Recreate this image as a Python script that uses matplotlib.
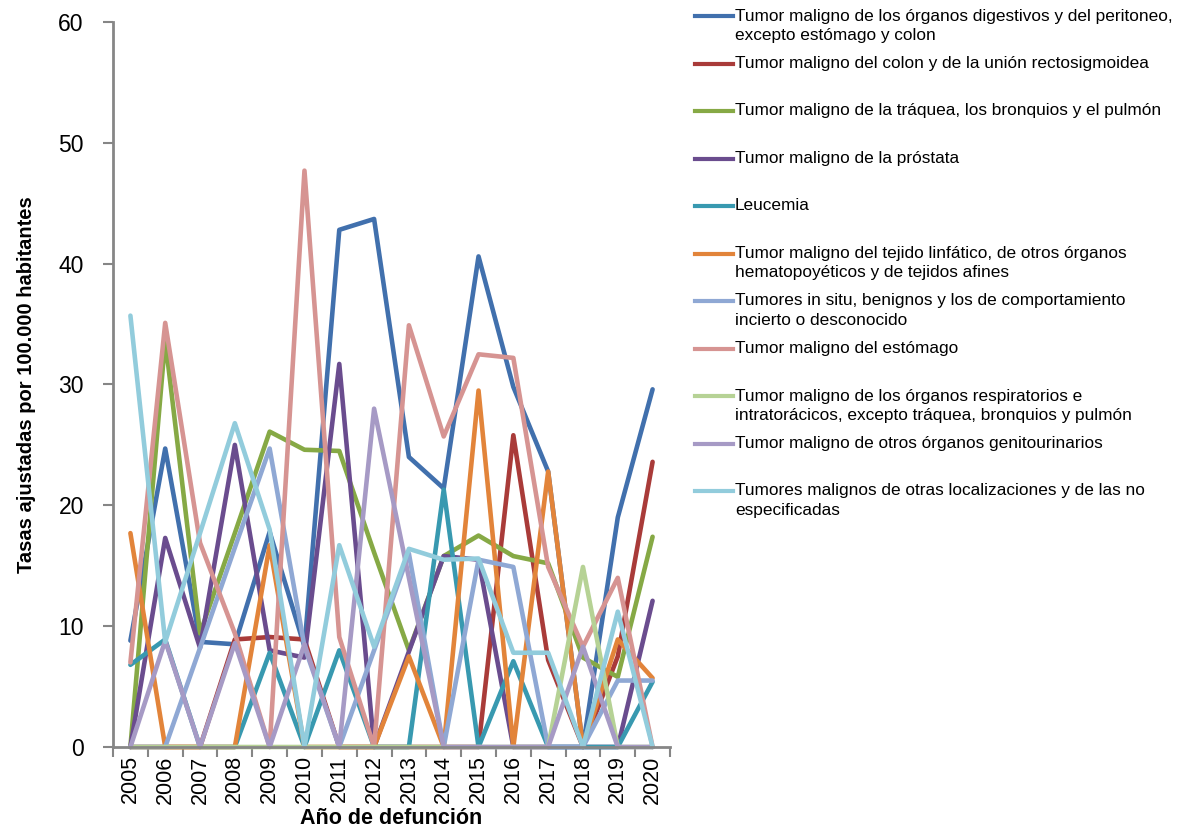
import matplotlib
matplotlib.use("Agg")
import matplotlib.pyplot as plt
from matplotlib.lines import Line2D

# Data
years = [2005, 2006, 2007, 2008, 2009, 2010, 2011, 2012,
         2013, 2014, 2015, 2016, 2017, 2018, 2019, 2020]

digestivos = [8.8, 24.7, 8.7, 8.5, 17.8, 8.3, 42.8, 43.7, 24.0, 21.4, 40.6, 29.8, 22.8, 0, 19.0, 29.6]
colon = [0, 0, 0, 8.9, 9.1, 8.9, 0, 0, 0, 0, 0, 25.8, 7.2, 0, 7.5, 23.6]
traquea = [0, 33.7, 9.4, 17.7, 26.1, 24.6, 24.5, 16.1, 8.0, 15.8, 17.5, 15.8, 15.2, 7.4, 5.8, 17.4]
prostata = [0, 17.3, 8.2, 25.0, 8.0, 7.4, 31.7, 0, 7.9, 15.8, 15.5, 0, 0, 0, 0, 12.1]
leucemia = [6.8, 8.9, 0, 0, 7.8, 0, 8.0, 0, 0, 21.3, 0, 7.1, 0, 0, 0, 5.4]
linfatico = [17.7, 0, 0, 0, 16.7, 0, 0, 0, 7.5, 0, 29.5, 0, 22.8, 0, 8.9, 5.7]
in_situ = [0, 0, 8.2, 16.5, 24.7, 8.3, 0, 8.0, 16.0, 0, 15.5, 14.9, 0, 0, 5.5, 5.5]
estomago = [7.0, 35.1, 16.9, 9.4, 0, 47.7, 9.1, 0, 34.9, 25.7, 32.5, 32.2, 14.9, 8.3, 14.0, 0]
respiratorios = [0, 0, 0, 0, 0, 0, 0, 0, 0, 0, 0, 0, 0, 14.9, 0, 0]
genitourinarios = [0, 8.8, 0, 8.6, 0, 8.5, 0, 28.0, 14.0, 0, 0, 0, 0, 8.3, 0, 0]
otras = [35.7, 8.7, 17.7, 26.8, 18.0, 0, 16.7, 8.3, 16.4, 15.5, 15.6, 7.8, 7.8, 0, 11.2, 0]

labels = [
    "Tumor maligno de los órganos digestivos y del peritoneo,\nexcepto estómago y colon",
    "Tumor maligno del colon y de la unión rectosigmoidea",
    "Tumor maligno de la tráquea, los bronquios y el pulmón",
    "Tumor maligno de la próstata",
    "Leucemia",
    "Tumor maligno del tejido linfático, de otros órganos\nhematopoyéticos y de tejidos afines",
    "Tumores in situ, benignos y los de comportamiento\nincierto o desconocido",
    "Tumor maligno del estómago",
    "Tumor maligno de los órganos respiratorios e\nintratorácicos, excepto tráquea, bronquios y pulmón",
    "Tumor maligno de otros órganos genitourinarios",
    "Tumores malignos de otras localizaciones y de las no\nespecificadas",
]
series = [digestivos, colon, traquea, prostata, leucemia, linfatico,
          in_situ, estomago, respiratorios, genitourinarios, otras]
colors = ["#4170AD", "#A93B39", "#86A945", "#6A4C8E", "#3899B0", "#E2843A",
          "#8FA8D4", "#D69492", "#B6D295", "#A69AC5", "#92CCDC"]

font = ["Liberation Sans", "DejaVu Sans"]

W, H = 1181, 840
fig = plt.figure(figsize=(W / 100, H / 100), dpi=100)
ax = fig.add_axes([113 / W, 1 - 747 / H, (670 - 113) / W, (747 - 22) / H])

xpos = list(range(len(years)))
for vals, col in zip(series, colors):
    ax.plot(xpos, vals, color=col, lw=3.3, solid_joinstyle="round",
            solid_capstyle="round", clip_on=False)

ax.set_xlim(-0.5, len(years) - 0.5)
ax.set_ylim(0, 60)
ax.set_yticks(range(0, 61, 10))
ax.set_xticks(xpos)
ax.set_xticklabels([str(y) for y in years], rotation=90, family=font, fontsize=15.5)
ax.set_xticks([i - 0.5 for i in range(len(years) + 1)], minor=True)
ax.tick_params(axis="x", which="major", length=0, pad=6)
ax.tick_params(axis="x", which="minor", length=7, width=1.5, color="#868686", direction="out")
ax.tick_params(axis="y", length=7, width=1.5, color="#868686", direction="out", pad=14)
for t in ax.get_yticklabels():
    t.set_family(font)
    t.set_fontsize(16.5)

for s in ["top", "right"]:
    ax.spines[s].set_visible(False)
for s in ["left", "bottom"]:
    ax.spines[s].set_color("#868686")
    ax.spines[s].set_linewidth(2)

ax.set_xlabel("Año de defunción", family=font, fontsize=15.5, fontweight="bold", labelpad=3)
ax.set_ylabel("Tasas ajustadas por 100.000 habitantes", family=font, fontsize=14.5,
              fontweight="bold", labelpad=16)

# Legend, drawn by hand to match the top-aligned entries
for i, (lab, col) in enumerate(zip(labels, colors)):
    yc = 16 + 47.5 * i
    fig.add_artist(Line2D([695 / W, 733 / W], [1 - yc / H, 1 - yc / H], color=col, lw=3))
    for j, line in enumerate(lab.split("\n")):
        fig.text(735 / W, 1 - (yc + 19.5 * j) / H, line, family=font, fontsize=12.4,
                 va="center", ha="left", color="#000000")

fig.savefig("out.png", dpi=100)
